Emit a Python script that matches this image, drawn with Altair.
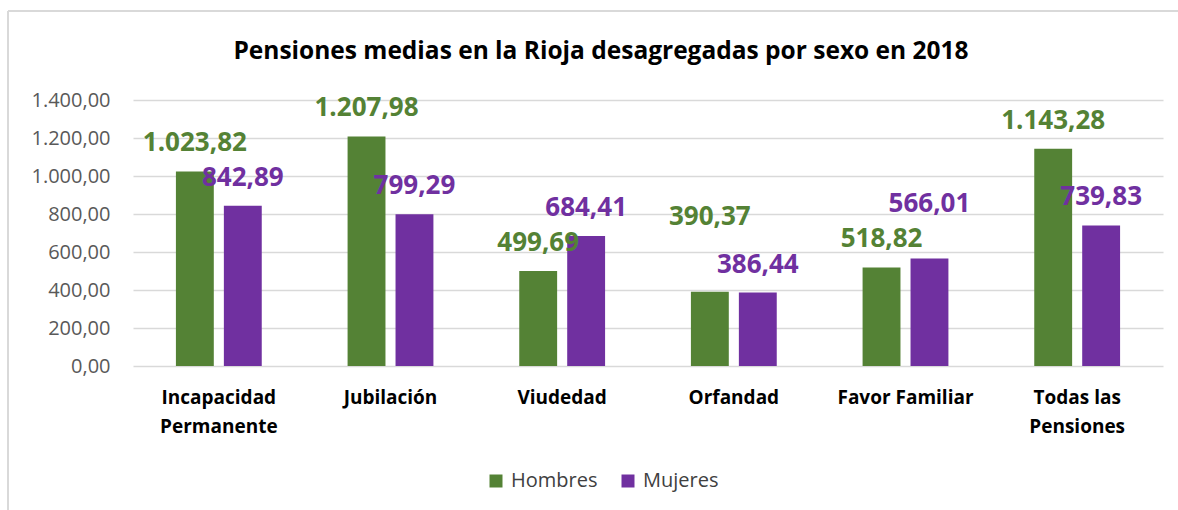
import altair as alt
import pandas as pd

categories = ["Incapacidad Permanente", "Jubilación", "Viudedad", "Orfandad",
              "Favor Familiar", "Todas las Pensiones"]
series = ["Hombres", "Mujeres"]
hombres = [1023.82, 1207.98, 499.69, 390.37, 518.82, 1143.28]
mujeres = [842.89, 799.29, 684.41, 386.44, 566.01, 739.83]
y_ticks = [0, 200, 400, 600, 800, 1000, 1200, 1400]
title_text = "Pensiones medias en la Rioja desagregadas por sexo en 2018"

GREEN = "#548235"
PURPLE = "#7030A0"
FONT = "Open Sans"


def es_fmt(v):
    s = f"{v:,.2f}"
    return s.replace(",", "_").replace(".", ",").replace("_", ".")


rows = []
for c, h, m in zip(categories, hombres, mujeres):
    rows.append({"cat": c, "sexo": "Hombres", "valor": h, "txt": es_fmt(h)})
    rows.append({"cat": c, "sexo": "Mujeres", "valor": m, "txt": es_fmt(m)})
df = pd.DataFrame(rows)

color_scale = alt.Scale(domain=series, range=[GREEN, PURPLE])

x_label_expr = (
    "datum.value == 'Incapacidad Permanente' ? ['Incapacidad', 'Permanente'] : "
    "datum.value == 'Todas las Pensiones' ? ['Todas las', 'Pensiones'] : datum.label"
)
y_label_expr = (
    "replace(replace(replace(format(datum.value, ',.2f'), ',', '_'), '.', ','), '_', '.')"
)

x_enc = alt.X(
    "cat:N",
    sort=categories,
    scale=alt.Scale(paddingInner=0.5, paddingOuter=0.25),
    axis=alt.Axis(
        title=None, labelExpr=x_label_expr, labelAngle=0, labelFont=FONT,
        labelFontSize=19, labelFontWeight="bold", labelColor="#000000",
        labelPadding=22, labelLineHeight=29, ticks=False, domain=False,
        labelBaseline="top",
    ),
)
xoff_enc = alt.XOffset("sexo:N", sort=series, scale=alt.Scale(paddingInner=0.21, paddingOuter=0))
y_enc = alt.Y(
    "valor:Q",
    scale=alt.Scale(domain=[0, 1400], nice=False),
    axis=alt.Axis(
        title=None, values=y_ticks, labelExpr=y_label_expr, labelFont=FONT,
        labelFontSize=20, labelColor="#595959", labelPadding=23, ticks=False,
        domain=False, grid=True, gridColor="#d9d9d9", gridWidth=1.6,
        labelOverlap=False,
    ),
)
color_enc = alt.Color(
    "sexo:N", scale=color_scale, sort=series,
    legend=alt.Legend(
        title=None, orient="none", legendX=353, legendY=371,
        direction="horizontal", symbolType="square", symbolSize=169,
        symbolStrokeWidth=0, labelFont=FONT, labelFontSize=20,
        labelColor="#404040", columnPadding=20, labelOffset=5, padding=0,
    ),
)

base = alt.Chart(df)

bars = base.mark_bar().encode(x=x_enc, xOffset=xoff_enc, y=y_enc, color=color_enc)

# label nudges (pixels) for labels moved off their default position
nudges = {("Orfandad", "Hombres"): -47, ("Favor Familiar", "Mujeres"): -26}


def label_layer(data_filter, dy):
    return base.transform_filter(data_filter).mark_text(
        font=FONT, fontSize=26, fontWeight="bold", baseline="alphabetic",
        align="center", dy=dy,
    ).encode(x=x_enc, xOffset=xoff_enc, y=y_enc, text="txt:N", color=color_enc)


not_nudged = " && ".join(
    f"!(datum.cat == '{c}' && datum.sexo == '{s}')" for (c, s) in nudges
)
layers = [bars, label_layer(not_nudged, -20)]
for (c, s), off in nudges.items():
    layers.append(label_layer(f"datum.cat == '{c}' && datum.sexo == '{s}'", -20 + off))

frame_df = pd.DataFrame({"k": [0]})
top_border = alt.Chart(frame_df).mark_rule(color="#d9d9d9", strokeWidth=2).encode(
    x=alt.value(-125), x2=alt.value(1045), y=alt.value(-89)
)
left_border = alt.Chart(frame_df).mark_rule(color="#d9d9d9", strokeWidth=2).encode(
    x=alt.value(-125), y=alt.value(-89), y2=alt.value(410)
)
title_mark = alt.Chart(pd.DataFrame({"t": [title_text]})).mark_text(
    font=FONT, fontSize=24.5, fontWeight="bold", color="#000000",
    align="center", baseline="alphabetic",
).encode(x=alt.value(468), y=alt.value(-41), text="t:N")
layers += [top_border, left_border, title_mark]

chart = alt.layer(*layers).properties(
    width=1030,
    height=266,
    autosize=alt.AutoSizeParams(type="none"),
    padding={"left": 133, "top": 100, "right": 15, "bottom": 144},
    background="#ffffff",
).configure_view(stroke=None)

chart.save("out.html", embed_options={"renderer": "svg", "actions": False})
